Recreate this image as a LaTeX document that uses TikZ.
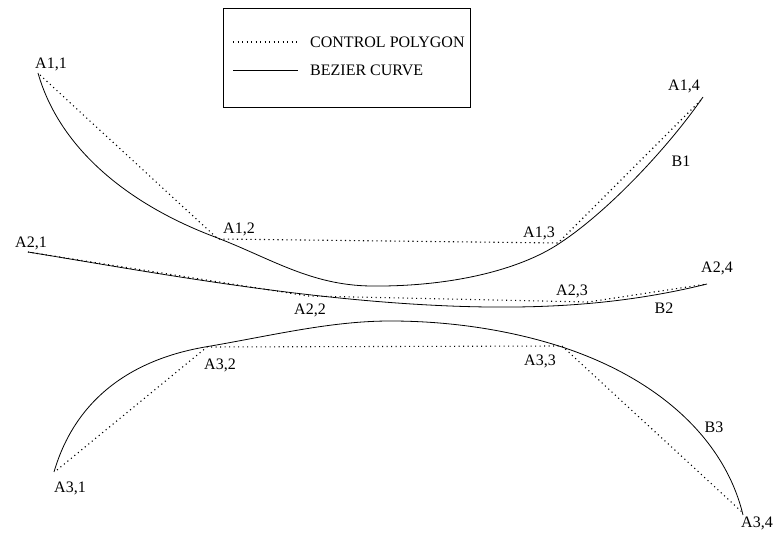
\documentclass[tikz,border=0pt]{standalone}
\usepackage{fontspec}
\setmainfont{Liberation Serif}
\begin{document}
\begin{tikzpicture}[x=1pt,y=-1pt,
  poly/.style={line width=1.1pt,dash pattern=on 1.1pt off 3.4pt},
  curve/.style={line width=0.8pt},
  lbl/.style={inner sep=0pt,font=\fontsize{16}{16}\selectfont},
  legendbox/.style={draw,line width=0.8pt}]
\useasboundingbox (0,0) rectangle (777,534);

% control points
\coordinate (A11) at (40,75);
\coordinate (A12) at (218,239);
\coordinate (A13) at (558,243);
\coordinate (A14) at (703,98);
\coordinate (A21) at (28,252);
\coordinate (A22) at (308,296);
\coordinate (A23) at (588,302);
\coordinate (A24) at (707,284);
\coordinate (A31) at (57,470);
\coordinate (A32) at (207,347);
\coordinate (A33) at (562,346);
\coordinate (A34) at (742,512);

% control polygons
\draw[poly] (A11) -- (A12) -- (A13) -- (A14);
\draw[poly] (A21) -- (A22) -- (A23) -- (A24);
\draw[poly] (A31) -- (A32) -- (A33) -- (A34);

% curves
\coordinate (C1a) at (38,73);
\coordinate (C1b) at (215,237);
\coordinate (C1c) at (370,286);
\coordinate (C1d) at (560,243);
\coordinate (C1e) at (703,97);
\draw[curve] (C1a) .. controls (60,150) and (130,205) .. (C1b)
  .. controls (270,258) and (310,285) .. (C1c)
  .. controls (450,287) and (520,270) .. (C1d)
  .. controls (610,210) and (670,145) .. (C1e);

\coordinate (C2a) at (28,252);
\coordinate (C2b) at (450,306);
\coordinate (C2c) at (707,284);
\draw[curve] (C2a) .. controls (150,272) and (300,300) .. (C2b)
  .. controls (550,310) and (630,303) .. (C2c);

\coordinate (C3a) at (54,472);
\coordinate (C3b) at (205,347);
\coordinate (C3c) at (390,321);
\coordinate (C3d) at (565,348);
\coordinate (C3e) at (743,515);
\draw[curve] (C3a) .. controls (75,400) and (130,360) .. (C3b)
  .. controls (270,336) and (330,321) .. (C3c)
  .. controls (460,321) and (520,333) .. (C3d)
  .. controls (660,380) and (725,440) .. (C3e);

% point labels
\node[lbl] (lA11) at (51,64) {A1,1};
\node[lbl] (lA12) at (239,229) {A1,2};
\node[lbl] (lA13) at (539,233) {A1,3};
\node[lbl] (lA14) at (684,86) {A1,4};
\node[lbl] (lB1) at (681,161) {B1};
\node[lbl] (lA21) at (31,243) {A2,1};
\node[lbl] (lA22) at (310,310) {A2,2};
\node[lbl] (lA23) at (572,291) {A2,3};
\node[lbl] (lA24) at (717,268) {A2,4};
\node[lbl] (lB2) at (664,308) {B2};
\node[lbl] (lA31) at (70,488) {A3,1};
\node[lbl] (lA32) at (220,365) {A3,2};
\node[lbl] (lA33) at (540,361) {A3,3};
\node[lbl] (lA34) at (757,523) {A3,4};
\node[lbl] (lB3) at (714,427) {B3};

% legend
\draw[legendbox] (223,8) rectangle (470,107);
\coordinate (L1a) at (233,42);
\coordinate (L1b) at (298,42);
\coordinate (L2a) at (233,70);
\coordinate (L2b) at (298,70);
\draw[poly] (L1a) -- (L1b);
\draw[curve] (L2a) -- (L2b);
\node[lbl,anchor=west] (tpoly) at (310,42) {CONTROL POLYGON};
\node[lbl,anchor=west] (tcurve) at (310,70) {BEZIER CURVE};
\end{tikzpicture}
\end{document}
